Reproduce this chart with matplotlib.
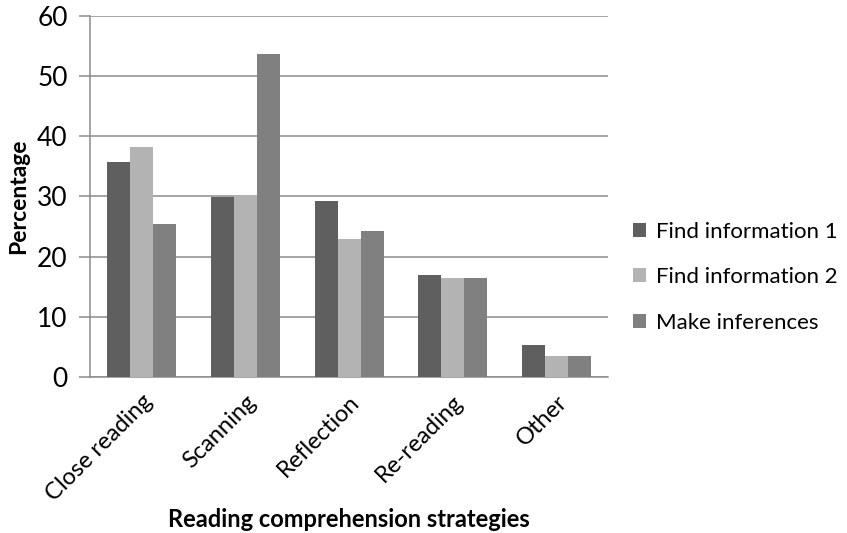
"""Grouped bar chart of reading comprehension strategies by task type."""

import numpy as np
import matplotlib.pyplot as plt

# categories and series (percent)
strategies = ["Close reading", "Scanning", "Reflection", "Re-reading", "Other"]
find_info_1 = [35.8, 29.9, 29.2, 16.9, 5.4]
find_info_2 = [38.3, 30.3, 23.0, 16.4, 3.5]
make_inferences = [25.5, 53.7, 24.3, 16.4, 3.5]

series_names = ["Find information 1", "Find information 2", "Make inferences"]
series_colors = ["#5f5f5f", "#b3b3b3", "#808080"]
y_ticks = [0, 10, 20, 30, 40, 50, 60]


def main():
    plt.rcParams["font.family"] = ["Lato", "DejaVu Sans"]

    fig = plt.figure(figsize=(8.47, 5.33), dpi=100)
    ax = fig.add_axes([0.1063, 0.2927, 0.6115, 0.6773])

    x = np.arange(len(strategies))
    width = 0.222
    series = [find_info_1, find_info_2, make_inferences]
    for i, (vals, name, color) in enumerate(zip(series, series_names, series_colors)):
        ax.bar(x + (i - 1) * width, vals, width, color=color, label=name, zorder=3)

    ax.set_xlim(-0.5, len(strategies) - 0.5)
    ax.set_ylim(0, 60)
    ax.set_yticks(y_ticks)
    ax.yaxis.grid(True, color="#8c8c8c", linewidth=1.1, zorder=0)

    for side in ["top", "right"]:
        ax.spines[side].set_visible(False)
    ax.spines["left"].set_color("#8c8c8c")
    ax.spines["bottom"].set_color("#8c8c8c")
    ax.spines["left"].set_linewidth(1.1)
    ax.spines["bottom"].set_linewidth(1.1)

    ax.tick_params(axis="y", length=8, width=1.1, color="#8c8c8c",
                   labelsize=19, pad=8)
    ax.tick_params(axis="x", length=0, labelsize=17, pad=10)
    ax.set_xticks(x)
    ax.set_xticklabels(strategies, rotation=45, ha="right", rotation_mode="anchor")

    ax.set_ylabel("Percentage", fontsize=16.5, fontweight="bold", labelpad=6)
    ax.set_xlabel("Reading comprehension strategies", fontsize=17,
                  fontweight="bold", labelpad=2)

    fig.legend(loc="center left", bbox_to_anchor=(0.737, 0.48), frameon=False,
               fontsize=16, handlelength=0.6, handleheight=0.6,
               handletextpad=0.45, labelspacing=1.15, borderaxespad=0.0)

    fig.savefig("out.png", dpi=100)


if __name__ == "__main__":
    main()
